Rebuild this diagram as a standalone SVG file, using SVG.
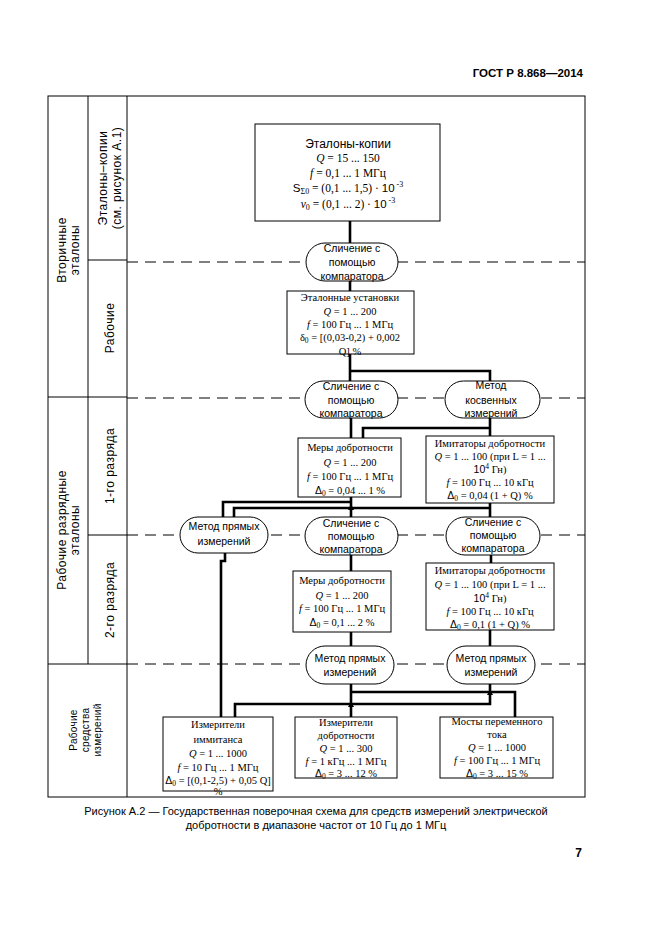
<svg xmlns="http://www.w3.org/2000/svg" width="661" height="935" viewBox="0 0 661 935">
<style>
.frame{stroke:#000;stroke-width:1;fill:none}
.dash{stroke:#000;stroke-width:1;stroke-dasharray:11 7;fill:none}
.box{fill:#fff;stroke:#000;stroke-width:1}
.ov{fill:#fff;stroke:#000;stroke-width:1}
.con{stroke:#000;stroke-width:2.6;fill:none}
.s{font-family:"Liberation Sans",Arial,sans-serif;font-size:10.5px;fill:#000;text-anchor:middle}
.r{font-family:"Liberation Serif","Times New Roman",serif;font-size:10.5px;fill:#000;text-anchor:middle}
.lab{font-family:"Liberation Sans",Arial,sans-serif;font-size:12px;letter-spacing:0.5px;fill:#000;text-anchor:middle}
.i{font-style:italic}
.ss{font-family:"Liberation Sans",Arial,sans-serif}
</style>
<rect width="661" height="935" fill="#fff"/>
<text x="583" y="77" style="font-family:'Liberation Sans',Arial,sans-serif;font-size:11.5px;font-weight:bold;text-anchor:end">ГОСТ Р 8.868—2014</text>

<g id="frame">
<rect class="frame" x="48" y="96" width="537" height="701"/>
<line class="frame" x1="88" y1="96" x2="88" y2="664"/>
<line class="frame" x1="127" y1="96" x2="127" y2="797"/>
<line class="frame" x1="88" y1="260" x2="127" y2="260"/>
<line class="frame" x1="48" y1="397" x2="127" y2="397"/>
<line class="frame" x1="88" y1="535" x2="127" y2="535"/>
<line class="frame" x1="48" y1="664" x2="127" y2="664"/>
<line class="dash" x1="127" y1="262" x2="585" y2="262"/>
<line class="dash" x1="127" y1="398" x2="585" y2="398"/>
<line class="dash" x1="127" y1="535" x2="585" y2="535"/>
<line class="dash" x1="127" y1="664" x2="585" y2="664"/>
</g>

<g id="labels">
<text class="lab" transform="translate(66,250) rotate(-90)">Вторичные</text>
<text class="lab" transform="translate(79,250) rotate(-90)">эталоны</text>
<text class="lab" transform="translate(66,530) rotate(-90)">Рабочие разрядные</text>
<text class="lab" transform="translate(79,530) rotate(-90)">эталоны</text>
<text class="lab" transform="translate(107,178) rotate(-90)">Эталоны–копии</text>
<text class="lab" transform="translate(121,178) rotate(-90)">(см. рисунок А.1)</text>
<text class="lab" transform="translate(114,328) rotate(-90)">Рабочие</text>
<text class="lab" transform="translate(114,466) rotate(-90)">1-го разряда</text>
<text class="lab" transform="translate(114,600) rotate(-90)">2-го разряда</text>
<text class="lab" style="font-size:10px;letter-spacing:0.3px" transform="translate(77,730) rotate(-90)">Рабочие</text>
<text class="lab" style="font-size:10px;letter-spacing:0.3px" transform="translate(89,730) rotate(-90)">средства</text>
<text class="lab" style="font-size:10px;letter-spacing:0.3px" transform="translate(101,730) rotate(-90)">измерений</text>
</g>

<g id="connectors">
<line class="con" x1="350" y1="221" x2="350" y2="243"/>
<line class="con" x1="350" y1="281" x2="350" y2="291"/>
<line class="con" x1="350" y1="354" x2="350" y2="382"/>
<polyline class="con" points="350,371 490,371 490,382"/>
<line class="con" x1="351" y1="417" x2="351" y2="438"/>
<line class="con" x1="490" y1="417" x2="490" y2="436"/>
<polyline class="con" points="490,428 363,428 363,438"/>
<line class="con" x1="351" y1="497" x2="351" y2="517"/>
<polyline class="con" points="351,502 223,502 223,517"/>
<line class="con" x1="490" y1="503" x2="490" y2="517"/>
<polyline class="con" points="490,508 234,508 234,517"/>
<polyline class="con" points="225,553 225,561 221,561 221,717"/>
<line class="con" x1="351" y1="555" x2="351" y2="571"/>
<line class="con" x1="491" y1="555" x2="491" y2="563"/>
<line class="con" x1="351" y1="632" x2="351" y2="646"/>
<line class="con" x1="490" y1="630" x2="490" y2="646"/>
<line class="con" x1="351" y1="684" x2="351" y2="717"/>
<polyline class="con" points="351,692 515,692 515,717"/>
<polyline class="con" points="490,684 490,704 235,704 235,717"/>
<path d="M348,510 L351,504 L354,510 Z M348,707 L351,701 L354,707 Z M487,695 L490,689 L493,695 Z" fill="#000"/>
</g>

<g id="n_kopii">
<rect class="box" x="255" y="124" width="185" height="97"/>
<text class="s" x="348" y="148" style="font-size:12px">Эталоны-копии</text>
<text class="r" x="348" y="162" style="font-size:11.5px"><tspan class="i">Q</tspan> = 15 ... 150</text>
<text class="r" x="348" y="177" style="font-size:11.5px"><tspan class="i">f</tspan> = 0,1 ... 1 МГц</text>
<text class="r" x="348" y="192" style="font-size:11.5px"><tspan class="ss">S</tspan><tspan dy="2" font-size="8">Σ0</tspan><tspan dy="-2"> = (0,1 ... 1,5) · </tspan><tspan class="ss">10</tspan><tspan dy="-5" font-size="8"> -3</tspan></text>
<text class="r" x="348" y="208" style="font-size:11.5px"><tspan class="i">v</tspan><tspan dy="2" font-size="8">0</tspan><tspan dy="-2"> = (0,1 ... 2) · </tspan><tspan class="ss">10</tspan><tspan dy="-5" font-size="8"> -3</tspan></text>
</g>

<g id="n_comp1">
<rect class="ov" x="306" y="243" width="92" height="38" rx="19"/>
<text class="s" x="352" y="252">Сличение с</text>
<text class="s" x="352" y="266">помощью</text>
<text class="s" x="352" y="280">компаратора</text>
</g>

<g id="n_ustanovki">
<rect class="box" x="287" y="291" width="127" height="63"/>
<text class="r" x="350" y="301">Эталонные установки</text>
<text class="r" x="350" y="315"><tspan class="i">Q</tspan> = 1 ... 200</text>
<text class="r" x="350" y="328"><tspan class="i">f</tspan> = 100 Гц ... 1 МГц</text>
<text class="r" x="350" y="341">δ<tspan dy="2" font-size="7.5">0</tspan><tspan dy="-2"> = [(0,03-0,2) + 0,002</tspan></text>
<text class="r" x="350" y="355">Q] %</text>
</g>

<g id="n_comp2">
<rect class="ov" x="305" y="381" width="93" height="37" rx="18.5"/>
<text class="s" x="351" y="390">Сличение с</text>
<text class="s" x="351" y="404">помощью</text>
<text class="s" x="351" y="417">компаратора</text>
</g>

<g id="n_kosv">
<rect class="ov" x="445" y="381" width="95" height="37" rx="18.5"/>
<text class="s" x="491" y="389">Метод</text>
<text class="s" x="491" y="404">косвенных</text>
<text class="s" x="491" y="417">измерений</text>
</g>

<g id="n_mery1">
<rect class="box" x="298" y="438" width="103" height="59"/>
<text class="r" x="350" y="451">Меры добротности</text>
<text class="r" x="350" y="466"><tspan class="i">Q</tspan> = 1 ... 200</text>
<text class="r" x="350" y="480"><tspan class="i">f</tspan> = 100 Гц ... 1 МГц</text>
<text class="r" x="350" y="494"><tspan class="ss">Δ</tspan><tspan dy="2" font-size="7.5">0</tspan><tspan dy="-2"> = 0,04 ... 1 %</tspan></text>
</g>

<g id="n_imit1">
<rect class="box" x="426" y="436" width="128" height="67"/>
<text class="r" x="490" y="447">Имитаторы добротности</text>
<text class="r" x="490" y="460"><tspan class="i">Q</tspan> = 1 ... 100 (при L = 1 ...</text>
<text class="r" x="490" y="473"><tspan class="ss">10</tspan><tspan dy="-4" font-size="7.5">4</tspan><tspan dy="4"> Гн)</tspan></text>
<text class="r" x="490" y="486"><tspan class="i">f</tspan> = 100 Гц ... 10 кГц</text>
<text class="r" x="490" y="499"><tspan class="ss">Δ</tspan><tspan dy="2" font-size="7.5">0</tspan><tspan dy="-2"> = 0,04 (1 + Q) %</tspan></text>
</g>

<g id="n_pryam1">
<rect class="ov" x="180" y="517" width="88" height="36" rx="18"/>
<text class="s" x="224" y="530">Метод прямых</text>
<text class="s" x="224" y="545">измерений</text>
</g>

<g id="n_comp3">
<rect class="ov" x="305" y="517" width="93" height="38" rx="19"/>
<text class="s" x="351" y="527">Сличение с</text>
<text class="s" x="351" y="540">помощью</text>
<text class="s" x="351" y="553">компаратора</text>
</g>

<g id="n_comp4">
<rect class="ov" x="446" y="517" width="94" height="38" rx="19"/>
<text class="s" x="493" y="526">Сличение с</text>
<text class="s" x="493" y="539">помощью</text>
<text class="s" x="493" y="552">компаратора</text>
</g>

<g id="n_mery2">
<rect class="box" x="293" y="571" width="98" height="61"/>
<text class="r" x="342" y="584">Меры добротности</text>
<text class="r" x="342" y="599"><tspan class="i">Q</tspan> = 1 ... 200</text>
<text class="r" x="342" y="612"><tspan class="i">f</tspan> = 100 Гц ... 1 МГц</text>
<text class="r" x="342" y="626"><tspan class="ss">Δ</tspan><tspan dy="2" font-size="7.5">0</tspan><tspan dy="-2"> = 0,1 ... 2 %</tspan></text>
</g>

<g id="n_imit2">
<rect class="box" x="426" y="563" width="128" height="67"/>
<text class="r" x="490" y="574">Имитаторы добротности</text>
<text class="r" x="490" y="588"><tspan class="i">Q</tspan> = 1 ... 100 (при L = 1 ...</text>
<text class="r" x="490" y="602"><tspan class="ss">10</tspan><tspan dy="-4" font-size="7.5">4</tspan><tspan dy="4"> Гн)</tspan></text>
<text class="r" x="490" y="615"><tspan class="i">f</tspan> = 100 Гц ... 10 кГц</text>
<text class="r" x="490" y="628"><tspan class="ss">Δ</tspan><tspan dy="2" font-size="7.5">0</tspan><tspan dy="-2"> = 0,1 (1 + Q) %</tspan></text>
</g>

<g id="n_pryam2">
<rect class="ov" x="306" y="646" width="88" height="38" rx="19"/>
<text class="s" x="350" y="662">Метод прямых</text>
<text class="s" x="350" y="676">измерений</text>
</g>

<g id="n_pryam3">
<rect class="ov" x="447" y="646" width="88" height="38" rx="19"/>
<text class="s" x="491" y="662">Метод прямых</text>
<text class="s" x="491" y="676">измерений</text>
</g>

<g id="n_immit">
<rect class="box" x="163" y="717" width="110" height="74"/>
<text class="r" x="218" y="728">Измерители</text>
<text class="r" x="218" y="743">иммитанса</text>
<text class="r" x="218" y="757"><tspan class="i">Q</tspan> = 1 ... 1000</text>
<text class="r" x="218" y="771"><tspan class="i">f</tspan> = 10 Гц ... 1 МГц</text>
<text class="r" x="218" y="784"><tspan class="ss">Δ</tspan><tspan dy="2" font-size="7.5">0</tspan><tspan dy="-2"> = [(0,1-2,5) + 0,05 Q]</tspan></text>
<text class="r" x="218" y="795">%</text>
</g>

<g id="n_izmdobr">
<rect class="box" x="295" y="717" width="102" height="61"/>
<text class="r" x="346" y="726">Измерители</text>
<text class="r" x="346" y="739">добротности</text>
<text class="r" x="346" y="752"><tspan class="i">Q</tspan> = 1 ... 300</text>
<text class="r" x="346" y="765"><tspan class="i">f</tspan> = 1 кГц ... 1 МГц</text>
<text class="r" x="346" y="777"><tspan class="ss">Δ</tspan><tspan dy="2" font-size="7.5">0</tspan><tspan dy="-2"> = 3 ... 12 %</tspan></text>
</g>

<g id="n_mosty">
<rect class="box" x="440" y="717" width="113" height="61"/>
<text class="r" x="497" y="725">Мосты переменного</text>
<text class="r" x="497" y="738">тока</text>
<text class="r" x="497" y="751"><tspan class="i">Q</tspan> = 1 ... 1000</text>
<text class="r" x="497" y="764"><tspan class="i">f</tspan> = 100 Гц ... 1 МГц</text>
<text class="r" x="497" y="777"><tspan class="ss">Δ</tspan><tspan dy="2" font-size="7.5">0</tspan><tspan dy="-2"> = 3 ... 15 %</tspan></text>
</g>

<text x="316" y="815" style="font-family:'Liberation Sans',Arial,sans-serif;font-size:11px;text-anchor:middle">Рисунок А.2 — Государственная поверочная схема для средств измерений электрической</text>
<text x="316" y="829" style="font-family:'Liberation Sans',Arial,sans-serif;font-size:11px;text-anchor:middle">добротности в диапазоне частот от 10 Гц до 1 МГц</text>
<text x="582" y="857" style="font-family:'Liberation Sans',Arial,sans-serif;font-size:12px;font-weight:bold;text-anchor:end">7</text>
</svg>
